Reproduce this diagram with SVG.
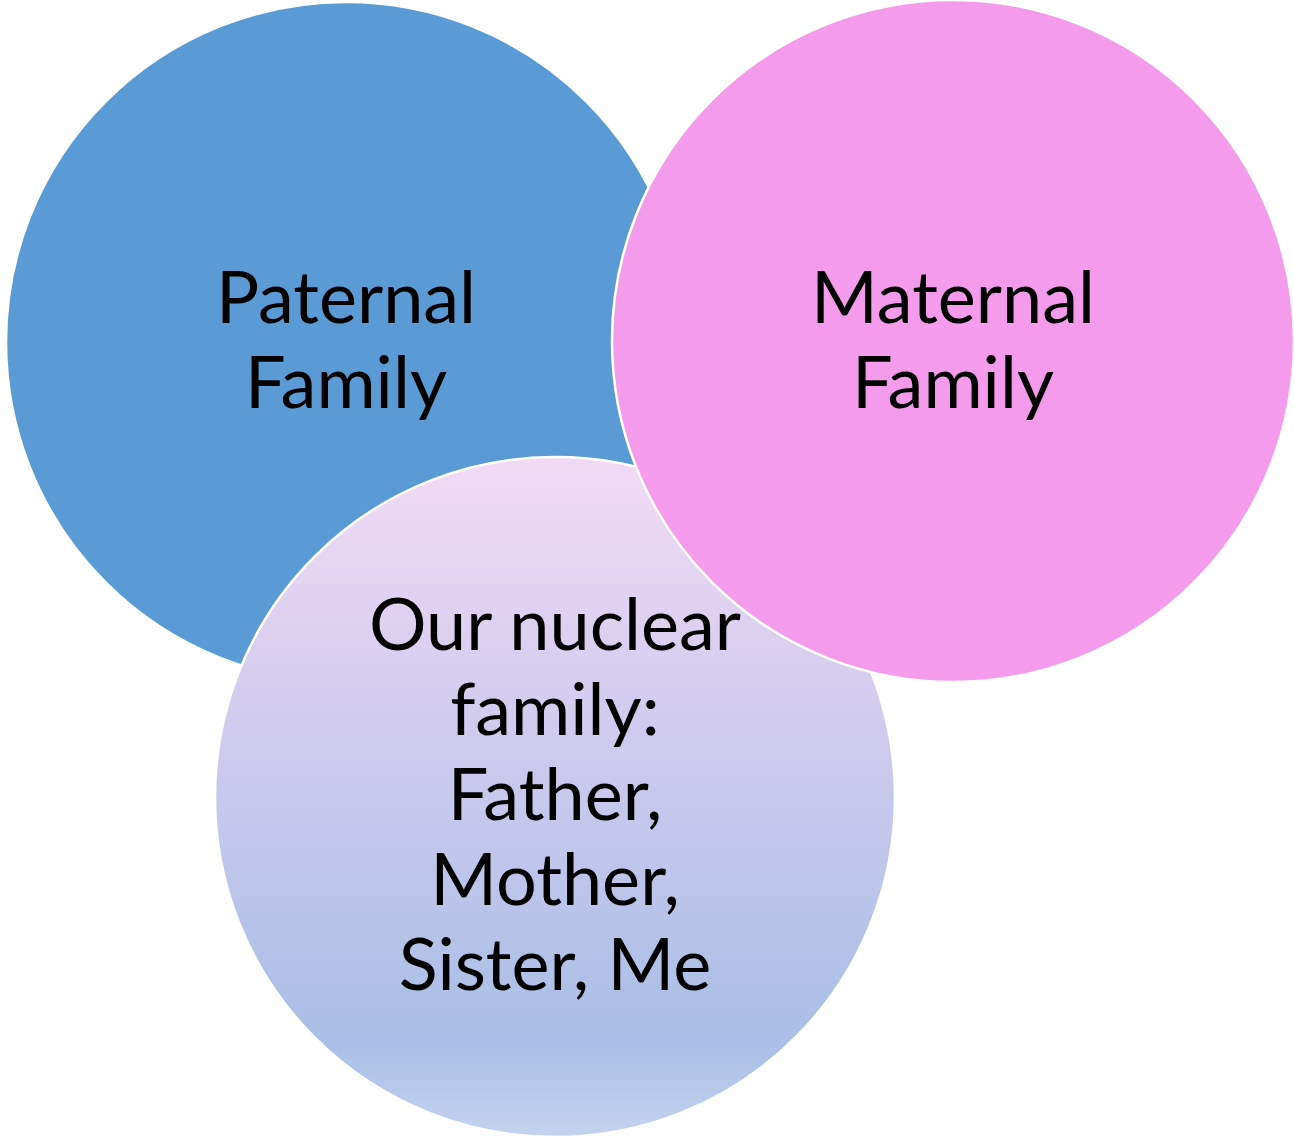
<svg xmlns="http://www.w3.org/2000/svg" width="1294" height="1139" viewBox="0 0 1294 1139">
<style>
.lbl{font-family:"Lato","Open Sans","Liberation Sans",sans-serif;font-size:72px;fill:#000;text-anchor:middle}
.c{stroke:#fff;stroke-width:2.5}
</style>
<defs>
<linearGradient id="lav" x1="0" y1="0" x2="0" y2="1">
<stop offset="0" stop-color="#f2daf5"/>
<stop offset="0.4" stop-color="#d0cbee"/>
<stop offset="0.86" stop-color="#a9bee6"/>
<stop offset="1" stop-color="#c4d4ef"/>
</linearGradient>
</defs>
<rect width="1294" height="1139" fill="#fff"/>
<g id="paternal">
<circle class="c" cx="346" cy="342" r="340" fill="#5b9bd5"/>
<text class="lbl" x="346" y="323">Paternal</text>
<text class="lbl" x="346" y="408">Family</text>
</g>
<g id="nuclear">
<circle class="c" cx="555" cy="797" r="340" fill="url(#lav)"/>
<text class="lbl" x="555" y="650">Our nuclear</text>
<text class="lbl" x="555" y="735">family:</text>
<text class="lbl" x="555" y="820">Father,</text>
<text class="lbl" x="555" y="905">Mother,</text>
<text class="lbl" x="555" y="990">Sister, Me</text>
</g>
<g id="maternal">
<circle class="c" cx="953" cy="341" r="341" fill="#f59beb"/>
<text class="lbl" x="953" y="323">Maternal</text>
<text class="lbl" x="953" y="408">Family</text>
</g>
<g id="connectors"/>
</svg>
